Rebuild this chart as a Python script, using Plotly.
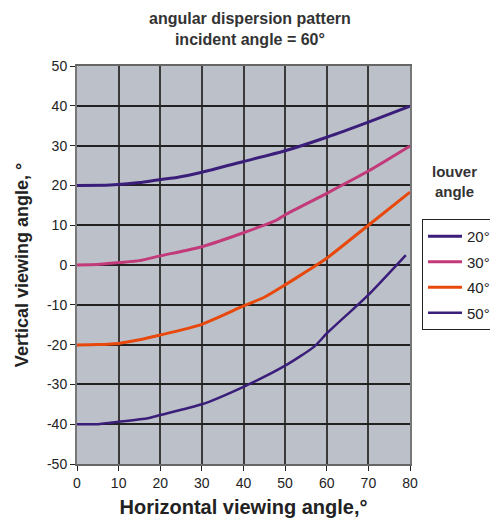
import plotly.graph_objects as go

x_20 = [0, 8, 15, 20, 24, 30, 40, 50, 60, 70, 80]
y_20 = [20, 20.1, 20.7, 21.5, 22.0, 23.3, 26.0, 28.7, 32.1, 35.9, 39.9]

x_30 = [0, 5, 10, 15, 20, 30, 40, 48, 50, 60, 70, 80]
y_30 = [0, 0.1, 0.6, 1.1, 2.3, 4.6, 8.1, 11.3, 12.6, 18.0, 23.6, 29.9]

x_40 = [0, 5, 10, 15, 20, 30, 40, 45, 50, 55, 60, 70, 80]
y_40 = [-20.1, -20.0, -19.7, -18.8, -17.6, -14.9, -10.3, -8.1, -5.0, -1.7, 1.7, 10.0, 18.3]

x_50 = [0, 5, 10, 17, 20, 30, 40, 50, 57, 60, 70, 79]
y_50 = [-40, -40, -39.4, -38.5, -37.7, -35.0, -30.6, -25.3, -20.5, -17.2, -7.5, 2.5]

names = ["20°", "30°", "40°", "50°"]
colors = ["#3b1d7a", "#c23a79", "#e8480c", "#3b1d7a"]
widths = [3, 3, 3, 2.5]

x_ticks = list(range(0, 81, 10))
y_ticks = list(range(-50, 51, 10))
y_ticktext = [str(v) for v in y_ticks]

fig = go.Figure()
for xs, ys, n, c, w in zip([x_20, x_30, x_40, x_50], [y_20, y_30, y_40, y_50], names, colors, widths):
    fig.add_trace(go.Scatter(x=xs, y=ys, name=n, mode="lines", legendgroup=n,
                             line=dict(color=c, width=w, shape="spline", smoothing=0.6)))

font_family = "Liberation Sans, Arial, sans-serif"
fig.update_layout(
    width=490, height=523,
    margin=dict(l=77, r=80, t=66, b=59, autoexpand=False),
    paper_bgcolor="white",
    plot_bgcolor="#bcc1c9",
    font=dict(family=font_family, size=14, color="#222"),
    xaxis=dict(range=[0, 80], tickvals=x_ticks, showgrid=True, gridcolor="#3a3a3a", gridwidth=1.5,
               showline=True, linecolor="#666", linewidth=2, mirror=True,
               ticks="outside", ticklen=5, tickcolor="#222", zeroline=False,
               title=dict(text="<b>Horizontal viewing angle,°</b>", font=dict(size=20, color="#222"), standoff=10)),
    yaxis=dict(range=[-50, 50], tickvals=y_ticks, ticktext=y_ticktext, showgrid=True, gridcolor="#222", gridwidth=1.5,
               showline=True, linecolor="#777", linewidth=2, mirror=True,
               ticks="outside", ticklen=5, tickcolor="#222", zeroline=False,
               title=dict(text="<b>Vertical viewing angle, °</b>", font=dict(size=18, color="#222"), standoff=14)),
    legend=dict(x=1.036, xanchor="left", y=0.6156, yanchor="top",
                bgcolor="white", bordercolor="#222", borderwidth=1, itemwidth=34,
                font=dict(size=15, color="#222"), tracegroupgap=3),
    showlegend=True,
)
fig.add_annotation(text="<b>angular dispersion pattern<br>incident angle = 60°</b>",
                   xref="paper", yref="paper", x=0.52, y=1.093,
                   xanchor="center", yanchor="middle", showarrow=False,
                   font=dict(size=16, color="#333"))
fig.add_annotation(text="<b>louver<br>angle</b>", xref="paper", yref="paper",
                   x=1.135, y=0.709, xanchor="center", yanchor="middle", showarrow=False,
                   font=dict(size=15, color="#333"))
fig.write_html("out.html", config={"displayModeBar": False},
               post_script="document.body.style.margin='0';")
